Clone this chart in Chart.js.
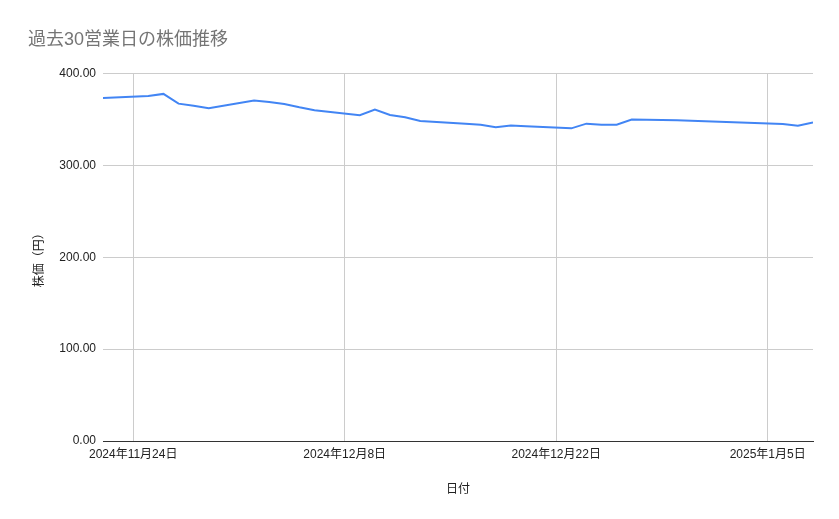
<!DOCTYPE html>
<html>
<head>
<meta charset="utf-8">
<script src="https://cdn.jsdelivr.net/npm/chart.js@4/dist/chart.umd.min.js"></script>
<style>
  html, body { margin: 0; padding: 0; background: #fff; }
  #chartContainer { width: 839px; height: 519px; }
</style>
</head>
<body>
<div id="chartContainer"><canvas id="priceChart"></canvas></div>
<script>
// 30 business days of closing prices
const dates = [
  '2024-11-22', '2024-11-25', '2024-11-26', '2024-11-27', '2024-11-28', '2024-11-29',
  '2024-12-02', '2024-12-03', '2024-12-04', '2024-12-05', '2024-12-06',
  '2024-12-09', '2024-12-10', '2024-12-11', '2024-12-12', '2024-12-13',
  '2024-12-16', '2024-12-17', '2024-12-18', '2024-12-19', '2024-12-20',
  '2024-12-23', '2024-12-24', '2024-12-25', '2024-12-26', '2024-12-27',
  '2024-12-30', '2025-01-06', '2025-01-07', '2025-01-08'
];
const prices = [
  373.5, 375.7, 377.9, 367.3, 365.1, 362.2,
  370.6, 369.2, 367.0, 363.3, 360.0,
  354.6, 360.8, 355.0, 352.4, 348.4,
  345.5, 344.4, 341.5, 343.6, 342.6,
  340.4, 345.5, 344.4, 344.4, 349.9,
  349.1, 345.2, 343.3, 346.9
];
const tickDates = ['2024-11-24', '2024-12-08', '2024-12-22', '2025-01-05'];
const xMinDate = '2024-11-22';
const xMaxDate = '2025-01-08';
const yTicks = [0, 100, 200, 300, 400];

// dates are turned into day numbers so a plain linear scale can be used (no date adapter offline)
const DAY = 86400000;
function toDay(s) {
  const [y, m, d] = s.split('-').map(Number);
  return Date.UTC(y, m - 1, d) / DAY;
}
function dayLabel(v) {
  const dt = new Date(v * DAY);
  return dt.getUTCFullYear() + '年' + (dt.getUTCMonth() + 1) + '月' + dt.getUTCDate() + '日';
}

const points = dates.map((d, i) => ({ x: toDay(d), y: prices[i] }));
const FONT = "Arial, 'Liberation Sans', 'Noto Sans CJK JP', sans-serif";

const ctx = document.getElementById('priceChart').getContext('2d');
new Chart(ctx, {
  type: 'line',
  data: {
    datasets: [{
      label: '株価',
      data: points,
      borderColor: '#4285f4',
      backgroundColor: '#4285f4',
      borderWidth: 2,
      pointRadius: 0,
      tension: 0
    }]
  },
  options: {
    responsive: true,
    maintainAspectRatio: false,
    animation: false,
    layout: { padding: { left: 28, right: 26, top: 0, bottom: 18 } },
    plugins: {
      legend: { display: false },
      tooltip: { enabled: false },
      title: {
        display: true,
        text: '過去30営業日の株価推移',
        align: 'start',
        color: '#757575',
        font: { family: FONT, size: 18, weight: 'normal' },
        padding: { top: 29, bottom: 23 }
      }
    },
    scales: {
      x: {
        type: 'linear',
        min: toDay(xMinDate),
        max: toDay(xMaxDate),
        afterBuildTicks: axis => {
          axis.ticks = tickDates.map(d => ({ value: toDay(d) }));
        },
        afterFit: scale => { scale.height = 60; },
        grid: { color: '#cccccc', lineWidth: 1, drawTicks: false },
        border: { display: true, color: '#333333', width: 1 },
        ticks: {
          color: '#222222',
          font: { family: FONT, size: 12 },
          padding: 6,
          maxRotation: 0,
          autoSkip: false,
          callback: v => dayLabel(v)
        },
        title: {
          display: true,
          text: '日付',
          color: '#222222',
          font: { family: FONT, size: 12 },
          padding: { top: 14 }
        }
      },
      y: {
        min: 0,
        max: 400,
        afterBuildTicks: axis => {
          axis.ticks = yTicks.map(v => ({ value: v }));
        },
        afterFit: scale => { scale.width = 75; },
        grid: {
          color: c => (c.tick && c.tick.value === 0 ? '#333333' : '#cccccc'),
          lineWidth: 1,
          drawTicks: false
        },
        border: { display: false },
        ticks: {
          color: '#222222',
          font: { family: FONT, size: 12 },
          padding: 7,
          callback: v => v.toFixed(2)
        },
        title: {
          display: true,
          text: '株価（円）',
          color: '#222222',
          font: { family: FONT, size: 12 },
          padding: { bottom: 0 }
        }
      }
    }
  }
});
</script>
</body>
</html>
